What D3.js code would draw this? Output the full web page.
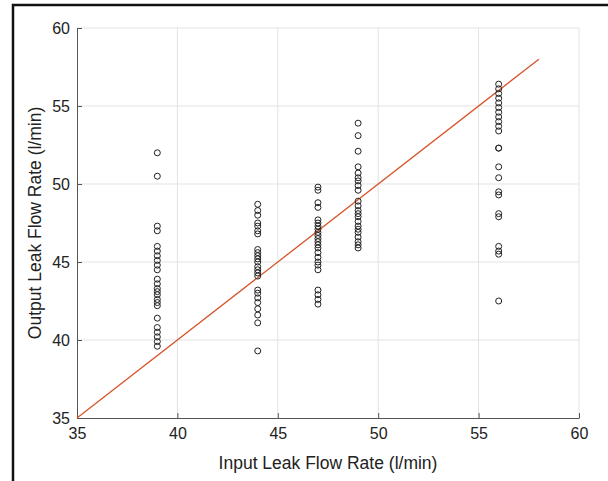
<!DOCTYPE html>
<html>
<head>
<meta charset="utf-8">
<script src="https://cdn.jsdelivr.net/npm/d3@7"></script>
<style>
  body { margin: 0; background: #fff; }
  svg { display: block; font-family: "Liberation Sans", Arial, sans-serif; }
</style>
</head>
<body>
<svg id="graph" width="608" height="481"></svg>
<script>
// input flow rates (x columns) and measured output flow rates
const inputs = [39, 44, 47, 49, 56]
const out39 = [52.0, 50.5, 47.3, 47.0, 46.0, 45.7, 45.4, 45.1, 44.8, 44.5, 43.9, 43.6, 43.3, 43.1, 42.9, 42.6, 42.4, 42.2, 41.4, 40.8, 40.5, 40.2, 39.9, 39.6]
const out44 = [48.7, 48.3, 48.0, 47.5, 47.3, 47.0, 46.8, 45.8, 45.6, 45.4, 45.2, 45.0, 44.7, 44.5, 44.3, 44.1, 43.2, 43.0, 42.7, 42.4, 42.0, 41.6, 41.1, 39.3]
const out47 = [49.8, 49.6, 48.8, 48.5, 47.7, 47.5, 47.3, 47.1, 46.9, 46.7, 46.5, 46.3, 46.1, 45.9, 45.6, 45.3, 45.0, 44.8, 44.5, 43.2, 42.9, 42.6, 42.3]
const out49 = [53.9, 53.1, 52.1, 51.1, 50.7, 50.4, 50.2, 49.9, 49.6, 48.9, 48.6, 48.3, 48.1, 47.9, 47.6, 47.3, 47.1, 46.9, 46.6, 46.3, 46.1, 45.9]
const out56 = [56.4, 56.1, 55.8, 55.5, 55.2, 54.9, 54.6, 54.3, 54.0, 53.7, 53.4, 52.3, 52.3, 51.1, 50.4, 49.5, 49.3, 48.1, 47.9, 46.0, 45.7, 45.5, 42.5]
const outputs = [out39, out44, out47, out49, out56]
const fitLine = [35, 58] // y = x reference line
const ticks = [35, 40, 45, 50, 55, 60]

const margin = { top: 28, right: 29, bottom: 63, left: 77 }
const width = 608
const height = 481

const points = inputs.flatMap((x, i) => outputs[i].map(y => ({ x, y })))

const xScale = d3.scaleLinear().domain([35, 60]).range([margin.left, width - margin.right])
const yScale = d3.scaleLinear().domain([35, 60]).range([height - margin.bottom, margin.top])

const svg = d3.select('#graph')

// outer frame
svg.append('path')
  .attr('d', `M13,${height} V5 H${width}`)
  .attr('fill', 'none')
  .attr('stroke', '#111')
  .attr('stroke-width', 2.5)

// grid
svg.append('g')
  .selectAll('line.gx')
  .data(ticks.slice(1))
  .enter()
  .append('line')
  .attr('x1', d => xScale(d))
  .attr('x2', d => xScale(d))
  .attr('y1', yScale(35))
  .attr('y2', yScale(60))
  .attr('stroke', '#e3e3e3')
svg.append('g')
  .selectAll('line.gy')
  .data(ticks.slice(1))
  .enter()
  .append('line')
  .attr('x1', xScale(35))
  .attr('x2', xScale(60))
  .attr('y1', d => yScale(d))
  .attr('y2', d => yScale(d))
  .attr('stroke', '#e3e3e3')

// axes, MATLAB-like inward ticks
const xAxis = d3.axisBottom(xScale).tickValues(ticks).tickSizeInner(-5).tickSizeOuter(0).tickPadding(10)
const yAxis = d3.axisLeft(yScale).tickValues(ticks).tickSizeInner(-5).tickSizeOuter(0).tickPadding(7)

const gx = svg.append('g')
  .attr('transform', `translate(0,${yScale(35)})`)
  .call(xAxis)
const gy = svg.append('g')
  .attr('transform', `translate(${xScale(35)},0)`)
  .call(yAxis)

;[gx, gy].forEach(g => {
  g.select('.domain').attr('stroke', '#555')
  g.selectAll('.tick line').attr('stroke', '#555')
  g.selectAll('.tick text').attr('fill', '#222').style('font-size', '16px')
})
gy.selectAll('.tick text').attr('dy', '0.35em')

// y = x line
svg.append('line')
  .attr('x1', xScale(fitLine[0]))
  .attr('y1', yScale(fitLine[0]))
  .attr('x2', xScale(fitLine[1]))
  .attr('y2', yScale(fitLine[1]))
  .attr('stroke', '#d6542a')
  .attr('stroke-width', 1.3)

// scatter
svg.append('g')
  .selectAll('circle')
  .data(points)
  .enter()
  .append('circle')
  .attr('cx', d => xScale(d.x))
  .attr('cy', d => yScale(d.y))
  .attr('r', 3)
  .attr('fill', 'none')
  .attr('stroke', '#222')
  .attr('stroke-width', 1)

// labels
svg.append('text')
  .attr('x', (xScale(35) + xScale(60)) / 2)
  .attr('y', 469)
  .attr('text-anchor', 'middle')
  .attr('fill', '#222')
  .style('font-size', '17.5px')
  .text('Input Leak Flow Rate (l/min)')

svg.append('text')
  .attr('transform', `translate(41,${(yScale(35) + yScale(60)) / 2}) rotate(-90)`)
  .attr('text-anchor', 'middle')
  .attr('fill', '#222')
  .style('font-size', '17.5px')
  .text('Output Leak Flow Rate (l/min)')
</script>
</body>
</html>
